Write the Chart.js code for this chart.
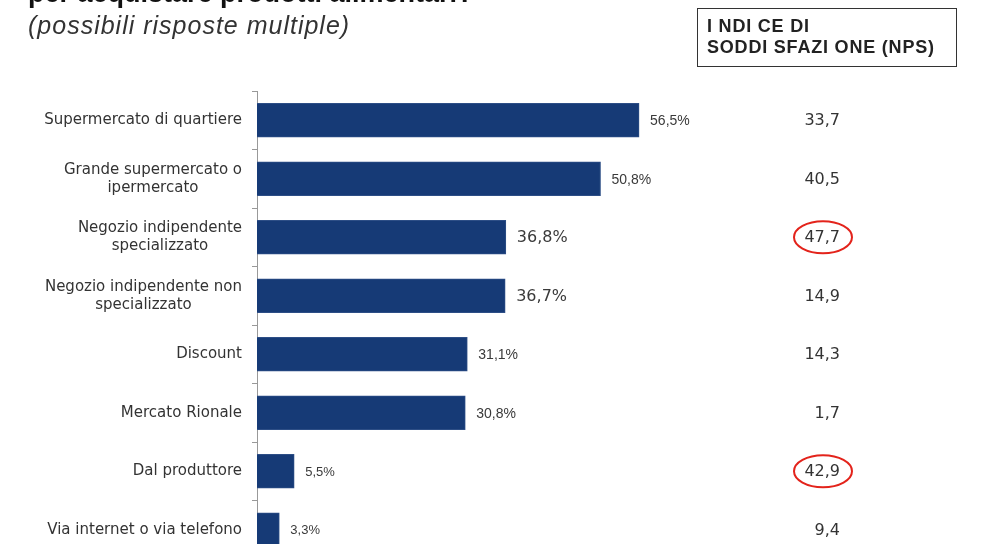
<!DOCTYPE html>
<html>
<head>
<meta charset="utf-8">
<script src="https://cdn.jsdelivr.net/npm/chart.js@4.4.1/dist/chart.umd.min.js"></script>
<style>
  html, body { margin: 0; padding: 0; background: #fff; overflow: hidden; }
  #wrap { position: relative; width: 985px; height: 560px; }
  #titolo { position: absolute; left: 28px; top: -22px; font: bold 27px "Liberation Sans", Arial, sans-serif; color: #111; white-space: nowrap; }
  #sottotitolo { position: absolute; left: 28px; top: 11px; font: italic 25px "Liberation Sans", Arial, sans-serif; letter-spacing: 1px; color: #333; white-space: nowrap; }
  #box { position: absolute; left: 697px; top: 8px; width: 258px; height: 57px; border: 1.5px solid #333; box-sizing: content-box; }
  #box div { position: absolute; left: 9px; font: bold 18px "Liberation Sans", Arial, sans-serif; letter-spacing: 0.8px; color: #222; white-space: nowrap; }
  canvas { position: absolute; left: 0; top: 0; }
</style>
</head>
<body>
<div id="wrap">
  <canvas id="grafico" width="985" height="560"></canvas>
  <div id="sottotitolo">(possibili risposte multiple)</div>
  <div id="titolo">per acquistare prodotti alimentari?</div>
  <div id="box">
    <div style="top:7px">I NDI CE DI</div>
    <div style="top:28px">SODDI SFAZI ONE (NPS)</div>
  </div>
</div>
<script>
// dati
const canali = [
    ['Supermercato di quartiere'],
    ['Grande supermercato o', 'ipermercato'],
    ['Negozio indipendente', 'specializzato'],
    ['Negozio indipendente non', 'specializzato'],
    ['Discount'],
    ['Mercato Rionale'],
    ['Dal produttore'],
    ['Via internet o via telefono']
];
const percentuali = [56.5, 50.8, 36.8, 36.7, 31.1, 30.8, 5.5, 3.3];
const etichettePerc = ['56,5%', '50,8%', '36,8%', '36,7%', '31,1%', '30,8%', '5,5%', '3,3%'];
const nps = ['33,7', '40,5', '47,7', '14,9', '14,3', '1,7', '42,9', '9,4'];
const evidenziati = [2, 6];

// font delle etichette (nell'originale non sono tutte uguali)
const fontEtichette = [
    '14px "Liberation Sans"', '14px "Liberation Sans"',
    '16px "DejaVu Sans"', '16px "DejaVu Sans"',
    '14px "Liberation Sans"', '14px "Liberation Sans"',
    '13px "Liberation Sans"', '13px "Liberation Sans"'
];

const pluginTesti = {
    id: 'testi',
    afterDatasetsDraw(chart) {
        const ctx = chart.ctx;
        const yScale = chart.scales.y;
        const meta = chart.getDatasetMeta(0);
        ctx.save();

        // etichette delle categorie: blocco allineato a destra, righe centrate
        ctx.font = '15px "DejaVu Sans"';
        ctx.fillStyle = '#333';
        ctx.textBaseline = 'middle';
        ctx.textAlign = 'center';
        canali.forEach((righe, i) => {
            const y = yScale.getPixelForValue(i);
            const larg = Math.max(...righe.map(r => ctx.measureText(r).width));
            const cx = 242 - larg / 2;
            const passo = 18;
            righe.forEach((r, k) => {
                ctx.fillText(r, cx, y + (k - (righe.length - 1) / 2) * passo);
            });
        });

        // percentuali a destra delle barre
        ctx.textAlign = 'left';
        ctx.fillStyle = '#3a3a3a';
        meta.data.forEach((barra, i) => {
            ctx.font = fontEtichette[i];
            ctx.fillText(etichettePerc[i], barra.x + 11, barra.y + 1);
        });

        // colonna NPS
        ctx.font = '16px "DejaVu Sans"';
        ctx.textAlign = 'right';
        ctx.fillStyle = '#333';
        nps.forEach((v, i) => {
            ctx.fillText(v, 840, yScale.getPixelForValue(i) + 1);
        });

        // cerchi rossi
        ctx.strokeStyle = '#e3231b';
        ctx.lineWidth = 2;
        evidenziati.forEach(i => {
            const y = yScale.getPixelForValue(i);
            ctx.beginPath();
            ctx.ellipse(823, y, 29, 16, 0, 0, Math.PI * 2);
            ctx.stroke();
        });
        ctx.restore();
    }
};

new Chart(document.getElementById('grafico').getContext('2d'), {
    type: 'bar',
    data: {
        labels: canali,
        datasets: [{
            data: percentuali,
            backgroundColor: '#163a76',
            borderColor: '#2d4e86',
            borderWidth: 1,
            barThickness: 34
        }]
    },
    options: {
        indexAxis: 'y',
        responsive: false,
        animation: false,
        layout: { padding: { top: 91, bottom: 1, left: 0, right: 187 } },
        plugins: { legend: { display: false }, tooltip: { enabled: false } },
        scales: {
            x: { display: false, min: 0, max: 80 },
            y: {
                ticks: { display: false },
                grid: { offset: true, drawOnChartArea: false, tickLength: 5, color: '#999' },
                border: { display: true, color: '#999' },
                afterFit(scale) { scale.width = 257; }
            }
        }
    },
    plugins: [pluginTesti]
});
</script>
</body>
</html>
